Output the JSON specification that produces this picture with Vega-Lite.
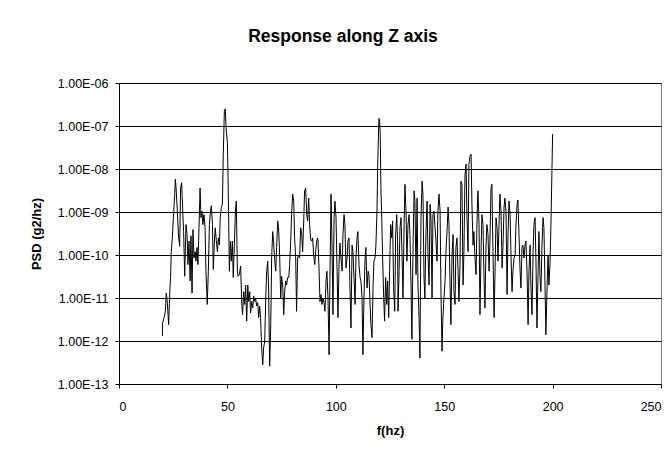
{
"$schema": "https://vega.github.io/schema/vega-lite/v6.json",
"width": 542, "height": 301,
"autosize": {"type": "none"},
"padding": {"left": 119, "top": 83, "right": 11, "bottom": 69},
"background": "white",
"title": {"text": "Response along Z axis", "font": "Liberation Sans", "fontSize": 17.5, "fontWeight": "bold", "color": "black", "anchor": "middle", "frame": "group", "dx": -47, "offset": 18, "baseline": "alphabetic"},
"data": {"values": [
{"f":20.0,"psd":1.3e-12},{"f":20.1,"psd":2.6e-12},{"f":20.8,"psd":3.5e-12},{"f":21.4,"psd":4.9e-12},{"f":21.8,"psd":1.3e-11},{"f":22.3,"psd":7.8e-12},{"f":22.9,"psd":2.4e-12},{"f":23.5,"psd":1.7e-11},{"f":23.8,"psd":3.0e-11},{"f":24.1,"psd":1.2e-10},{"f":24.6,"psd":2.5e-10},{"f":25.1,"psd":7.4e-10},{"f":25.7,"psd":2.6e-9},{"f":26.0,"psd":5.8e-9},{"f":26.4,"psd":3.1e-9},{"f":26.9,"psd":1.05e-9},{"f":27.5,"psd":2.5e-10},{"f":28.0,"psd":1.6e-10},{"f":28.4,"psd":3.6e-9},{"f":28.9,"psd":4.8e-9},{"f":29.4,"psd":1.05e-9},{"f":29.8,"psd":3.5e-10},{"f":30.3,"psd":3.2e-11},{"f":30.9,"psd":5.1e-10},{"f":31.4,"psd":3.0e-10},{"f":31.8,"psd":6.0e-11},{"f":32.3,"psd":2.1e-10},{"f":32.8,"psd":2.5e-11},{"f":33.2,"psd":2.8e-10},{"f":33.7,"psd":1.3e-11},{"f":34.1,"psd":3.9e-10},{"f":34.6,"psd":8.5e-11},{"f":35.1,"psd":1.2e-10},{"f":35.5,"psd":7.2e-11},{"f":36.0,"psd":1.5e-10},{"f":36.4,"psd":6.0e-11},{"f":36.9,"psd":4.3e-10},{"f":37.4,"psd":3.6e-9},{"f":37.8,"psd":7.4e-10},{"f":38.3,"psd":1.05e-9},{"f":38.7,"psd":5.1e-10},{"f":39.2,"psd":8.7e-10},{"f":39.7,"psd":4.3e-10},{"f":40.1,"psd":4.2e-11},{"f":40.7,"psd":7.1e-12},{"f":41.2,"psd":4.2e-11},{"f":41.7,"psd":5.1e-10},{"f":42.1,"psd":9.5e-10},{"f":42.6,"psd":1.4e-9},{"f":43.1,"psd":5.1e-10},{"f":43.5,"psd":4.6e-11},{"f":44.0,"psd":2.1e-10},{"f":44.4,"psd":4.3e-10},{"f":44.9,"psd":2.1e-10},{"f":45.4,"psd":1.2e-10},{"f":45.8,"psd":2.5e-10},{"f":46.3,"psd":1.7e-10},{"f":46.7,"psd":7.4e-10},{"f":47.2,"psd":1.3e-9},{"f":47.7,"psd":1.5e-9},{"f":48.1,"psd":2.2e-8},{"f":48.6,"psd":2.2e-7},{"f":49.0,"psd":2.5e-7},{"f":49.5,"psd":7.6e-8},{"f":50.0,"psd":4.1e-8},{"f":50.3,"psd":6.3e-9},{"f":50.6,"psd":6.2e-10},{"f":50.9,"psd":4.2e-11},{"f":51.4,"psd":2.1e-10},{"f":51.8,"psd":7.2e-11},{"f":52.3,"psd":2.1e-10},{"f":52.7,"psd":3.0e-11},{"f":53.2,"psd":1.7e-10},{"f":53.7,"psd":1.05e-9},{"f":54.1,"psd":1.8e-9},{"f":54.6,"psd":4.2e-11},
{"f":54.9,"psd":3.2e-11},{"f":55.5,"psd":3.5e-11},{"f":56.1,"psd":5.5e-11},{"f":56.6,"psd":8.3e-12},{"f":57.0,"psd":4.1e-12},{"f":57.5,"psd":1.4e-11},{"f":58.0,"psd":7.1e-12},{"f":58.4,"psd":2.0e-11},{"f":58.9,"psd":2.9e-12},{"f":59.4,"psd":2.0e-11},{"f":59.8,"psd":8.3e-12},{"f":60.3,"psd":1.4e-11},{"f":60.7,"psd":4.5e-12},{"f":61.2,"psd":8.3e-12},{"f":61.7,"psd":5.9e-12},{"f":62.1,"psd":1.1e-11},{"f":62.6,"psd":8.3e-12},{"f":63.0,"psd":1.0e-11},{"f":63.5,"psd":6.5e-12},{"f":64.0,"psd":7.8e-12},{"f":64.4,"psd":3.5e-12},{"f":64.9,"psd":6.5e-12},{"f":65.3,"psd":3.5e-12},{"f":65.8,"psd":6.9e-13},{"f":66.3,"psd":2.8e-13},{"f":66.7,"psd":6.9e-13},{"f":67.2,"psd":9.8e-13},{"f":67.7,"psd":1.0e-11},{"f":68.1,"psd":4.2e-11},{"f":68.6,"psd":7.2e-11},{"f":69.0,"psd":1.7e-11},{"f":69.5,"psd":2.6e-13},{"f":70.0,"psd":2.4e-12},{"f":70.4,"psd":8.5e-11},{"f":70.9,"psd":3.5e-10},{"f":71.3,"psd":2.1e-10},{"f":71.8,"psd":7.8e-11},{"f":72.3,"psd":4.2e-11},{"f":72.7,"psd":1.5e-10},{"f":73.2,"psd":6.2e-10},{"f":73.6,"psd":4.3e-10},{"f":74.1,"psd":1.0e-10},{"f":74.6,"psd":1.0e-11},{"f":75.0,"psd":3.2e-11},{"f":75.5,"psd":2.0e-11},{"f":76.0,"psd":4.1e-12},{"f":76.4,"psd":1.4e-11},{"f":76.9,"psd":2.5e-11},{"f":77.3,"psd":2.0e-11},{"f":77.8,"psd":3.0e-11},{"f":78.3,"psd":3.0e-11},{"f":78.7,"psd":6.0e-11},{"f":79.2,"psd":2.1e-10},{"f":79.6,"psd":8.7e-10},{"f":80.1,"psd":2.6e-9},{"f":80.6,"psd":1.8e-9},{"f":81.0,"psd":2.5e-10},{"f":81.5,"psd":8.5e-11},{"f":81.9,"psd":4.9e-12},{"f":82.4,"psd":8.5e-11},{"f":82.9,"psd":1.0e-10},{"f":83.3,"psd":8.5e-11},{"f":83.8,"psd":4.3e-10},{"f":84.3,"psd":3.0e-10},{"f":84.7,"psd":1.2e-10},{"f":85.2,"psd":6.2e-10},{"f":85.6,"psd":3.1e-9},{"f":86.1,"psd":3.6e-9},{"f":86.6,"psd":8.7e-10},{"f":87.0,"psd":6.2e-10},{"f":87.5,"psd":2.1e-9},{"f":87.9,"psd":5.1e-10},{"f":88.4,"psd":2.3e-10},{"f":88.9,"psd":2.1e-10},{"f":89.3,"psd":2.5e-10},{"f":89.8,"psd":1.0e-10},{"f":90.3,"psd":6.0e-11},{"f":90.7,"psd":1.2e-10},{"f":91.2,"psd":2.1e-10},{"f":91.6,"psd":2.5e-10},
{"f":91.8,"psd":2.1e-10},{"f":92.3,"psd":4.2e-11},{"f":92.7,"psd":8.3e-12},{"f":93.2,"psd":1.2e-11},{"f":93.6,"psd":7.1e-12},{"f":94.1,"psd":1.0e-11},{"f":94.6,"psd":7.8e-12},{"f":95.0,"psd":4.9e-12},{"f":95.5,"psd":2.5e-11},{"f":95.9,"psd":4.2e-11},{"f":96.4,"psd":1.0e-11},{"f":96.9,"psd":4.8e-13},{"f":97.3,"psd":3.0e-11},{"f":97.8,"psd":2.6e-9},{"f":98.2,"psd":2.5e-10},{"f":98.7,"psd":4.1e-12},{"f":99.2,"psd":7.4e-10},{"f":99.6,"psd":1.8e-9},{"f":100.1,"psd":7.4e-10},{"f":100.6,"psd":4.2e-11},{"f":101.0,"psd":3.5e-12},{"f":101.5,"psd":6.0e-11},{"f":101.9,"psd":1.9e-10},{"f":102.4,"psd":8.5e-11},{"f":102.9,"psd":4.2e-11},{"f":103.3,"psd":3.0e-10},{"f":103.8,"psd":8.7e-10},{"f":104.2,"psd":5.1e-10},{"f":104.7,"psd":5.0e-11},{"f":105.2,"psd":8.5e-11},{"f":105.6,"psd":2.1e-10},{"f":106.1,"psd":2.5e-10},{"f":106.5,"psd":2.0e-11},{"f":107.0,"psd":2.0e-12},{"f":107.5,"psd":1.7e-10},{"f":107.9,"psd":1.2e-10},{"f":108.4,"psd":3.0e-11},{"f":108.9,"psd":7.1e-12},{"f":109.3,"psd":8.5e-11},{"f":109.8,"psd":2.5e-10},{"f":110.2,"psd":3.5e-10},{"f":110.7,"psd":6.0e-11},{"f":111.2,"psd":3.0e-11},{"f":111.6,"psd":2.5e-11},{"f":112.1,"psd":1.0e-11},{"f":112.5,"psd":4.8e-13},{"f":113.0,"psd":1.0e-11},{"f":113.5,"psd":8.5e-11},{"f":113.9,"psd":1.5e-10},{"f":114.4,"psd":1.7e-11},{"f":114.9,"psd":4.2e-11},{"f":115.3,"psd":3.5e-11},{"f":115.8,"psd":7.1e-12},{"f":116.2,"psd":2.4e-12},{"f":116.7,"psd":1.2e-12},{"f":117.2,"psd":2.0e-11},{"f":117.6,"psd":7.2e-11},{"f":118.1,"psd":8.5e-11},{"f":118.5,"psd":1.7e-10},{"f":119.0,"psd":1.05e-9},{"f":119.3,"psd":1.1e-8},{"f":119.6,"psd":4.5e-8},{"f":119.9,"psd":1.5e-7},{"f":120.2,"psd":1.3e-7},{"f":120.5,"psd":6.5e-8},{"f":120.8,"psd":3.6e-9},{"f":121.2,"psd":7.4e-10},{"f":121.6,"psd":8.5e-11},{"f":122.1,"psd":1.0e-11},{"f":122.5,"psd":2.9e-12},{"f":123.0,"psd":3.0e-11},{"f":123.5,"psd":7.1e-12},{"f":123.9,"psd":2.5e-11},{"f":124.4,"psd":3.5e-12},{"f":124.8,"psd":4.2e-11},{"f":125.3,"psd":5.1e-10},{"f":125.8,"psd":2.5e-10},{"f":126.2,"psd":6.2e-10},{"f":126.7,"psd":1.4e-11},{"f":127.2,"psd":4.9e-12},{"f":127.6,"psd":3.0e-10},{"f":128.1,"psd":8.7e-10},{"f":128.5,"psd":2.1e-10},
{"f":128.7,"psd":4.9e-12},{"f":129.2,"psd":4.2e-11},{"f":129.6,"psd":4.3e-10},{"f":130.1,"psd":7.4e-10},{"f":130.5,"psd":1.2e-10},{"f":131.0,"psd":1.0e-11},{"f":131.5,"psd":5.1e-10},{"f":131.9,"psd":4.4e-9},{"f":132.4,"psd":1.05e-9},{"f":132.8,"psd":7.2e-11},{"f":133.3,"psd":5.1e-10},{"f":133.8,"psd":8.7e-10},{"f":134.2,"psd":3.0e-10},{"f":134.7,"psd":2.0e-11},{"f":135.1,"psd":1.1e-12},{"f":135.6,"psd":1.2e-10},{"f":136.1,"psd":3.1e-9},{"f":136.5,"psd":1.8e-9},{"f":137.0,"psd":3.5e-11},{"f":137.5,"psd":2.1e-9},{"f":137.9,"psd":2.0e-11},{"f":138.4,"psd":3.5e-12},{"f":138.8,"psd":4.0e-13},{"f":139.3,"psd":7.4e-10},{"f":139.8,"psd":5.2e-9},{"f":140.2,"psd":2.6e-9},{"f":140.7,"psd":3.0e-11},{"f":141.1,"psd":1.0e-11},{"f":141.6,"psd":3.5e-10},{"f":142.1,"psd":1.8e-9},{"f":142.5,"psd":1.2e-10},{"f":143.0,"psd":2.0e-11},{"f":143.5,"psd":1.5e-9},{"f":143.9,"psd":7.4e-10},{"f":144.4,"psd":1.0e-11},{"f":144.8,"psd":8.7e-10},{"f":145.3,"psd":1.05e-9},{"f":145.8,"psd":4.3e-10},{"f":146.2,"psd":2.1e-10},{"f":146.7,"psd":7.2e-11},{"f":147.1,"psd":1.05e-9},{"f":147.6,"psd":2.6e-9},{"f":148.1,"psd":1.05e-9},{"f":148.5,"psd":1.4e-11},{"f":149.0,"psd":5.8e-13},{"f":149.4,"psd":3.5e-12},{"f":149.9,"psd":1.0e-11},{"f":150.4,"psd":2.5e-11},{"f":150.8,"psd":1.2e-10},{"f":151.3,"psd":3.5e-10},{"f":151.8,"psd":1.3e-9},{"f":152.2,"psd":5.1e-10},{"f":152.7,"psd":2.0e-11},{"f":153.1,"psd":2.4e-12},{"f":153.6,"psd":1.0e-10},{"f":154.1,"psd":3.0e-10},{"f":154.5,"psd":1.4e-11},{"f":155.0,"psd":7.1e-12},{"f":155.4,"psd":1.5e-10},{"f":155.9,"psd":2.5e-10},{"f":156.4,"psd":4.2e-11},{"f":156.8,"psd":8.3e-12},{"f":157.3,"psd":6.0e-11},{"f":157.7,"psd":5.2e-9},{"f":158.2,"psd":4.4e-9},{"f":158.7,"psd":2.0e-11},{"f":159.1,"psd":1.2e-10},{"f":159.6,"psd":7.4e-9},{"f":160.1,"psd":1.3e-8},{"f":160.5,"psd":7.4e-10},{"f":161.0,"psd":1.2e-10},{"f":161.4,"psd":1.3e-8},{"f":161.9,"psd":2.0e-8},{"f":162.4,"psd":2.2e-8},{"f":162.8,"psd":1.5e-9},{"f":163.3,"psd":1.7e-10},{"f":163.7,"psd":3.5e-10},{"f":164.2,"psd":8.5e-11},{"f":164.7,"psd":3.5e-11},{"f":165.1,"psd":5.1e-10},{"f":165.4,"psd":2.1e-9},
{"f":165.6,"psd":3.1e-9},{"f":166.1,"psd":4.3e-10},{"f":166.5,"psd":4.1e-12},{"f":167.0,"psd":1.2e-10},{"f":167.4,"psd":8.7e-10},{"f":167.9,"psd":5.1e-10},{"f":168.4,"psd":2.5e-11},{"f":168.8,"psd":5.9e-12},{"f":169.3,"psd":1.7e-10},{"f":169.7,"psd":5.1e-10},{"f":170.2,"psd":3.0e-10},{"f":170.7,"psd":4.2e-11},{"f":171.1,"psd":2.1e-10},{"f":171.6,"psd":3.6e-9},{"f":172.0,"psd":4.4e-9},{"f":172.5,"psd":1.2e-10},{"f":173.0,"psd":3.5e-12},{"f":173.4,"psd":3.0e-11},{"f":173.9,"psd":7.4e-10},{"f":174.4,"psd":4.3e-10},{"f":174.8,"psd":7.2e-11},{"f":175.3,"psd":5.1e-10},{"f":175.7,"psd":2.6e-9},{"f":176.2,"psd":1.05e-9},{"f":176.7,"psd":5.0e-11},{"f":177.1,"psd":1.5e-10},{"f":177.6,"psd":1.3e-9},{"f":178.0,"psd":2.1e-9},{"f":178.5,"psd":1.05e-9},{"f":179.0,"psd":1.2e-11},{"f":179.4,"psd":2.5e-10},{"f":179.9,"psd":1.8e-9},{"f":180.4,"psd":8.7e-10},{"f":180.8,"psd":1.0e-10},{"f":181.3,"psd":1.4e-11},{"f":181.7,"psd":4.2e-11},{"f":182.2,"psd":8.5e-11},{"f":182.7,"psd":1.0e-10},{"f":183.1,"psd":5.1e-10},{"f":183.6,"psd":1.5e-9},{"f":184.0,"psd":1.9e-9},{"f":184.5,"psd":3.0e-10},{"f":185.0,"psd":4.2e-11},{"f":185.4,"psd":1.7e-11},{"f":185.9,"psd":1.5e-10},{"f":186.3,"psd":1.7e-10},{"f":186.8,"psd":8.5e-11},{"f":187.3,"psd":1.7e-10},{"f":187.7,"psd":2.1e-10},{"f":188.2,"psd":4.2e-11},{"f":188.7,"psd":2.4e-12},{"f":189.1,"psd":4.2e-11},{"f":189.6,"psd":1.7e-10},{"f":190.0,"psd":2.0e-11},{"f":190.5,"psd":4.1e-12},{"f":191.0,"psd":1.2e-10},{"f":191.4,"psd":5.1e-10},{"f":191.9,"psd":7.4e-10},{"f":192.3,"psd":8.5e-11},{"f":192.8,"psd":2.0e-12},{"f":193.3,"psd":4.2e-11},{"f":193.7,"psd":3.5e-10},{"f":194.2,"psd":3.0e-11},{"f":194.6,"psd":1.4e-11},{"f":195.1,"psd":1.7e-10},{"f":195.6,"psd":7.4e-10},{"f":196.0,"psd":4.3e-10},{"f":196.5,"psd":2.0e-11},{"f":196.9,"psd":1.4e-12},{"f":197.4,"psd":1.4e-11},{"f":197.9,"psd":1.0e-10},{"f":198.3,"psd":2.0e-11},{"f":198.8,"psd":6.0e-11},{"f":199.3,"psd":7.4e-10},{"f":200.0,"psd":6.5e-8}
]},
"mark": {"type": "line", "color": "black", "strokeWidth": 1, "clip": true},
"encoding": {
"x": {"field": "f", "type": "quantitative", "scale": {"domain": [0, 250], "nice": false, "zero": false},
  "axis": {"title": "f(hz)", "values": [0, 50, 100, 150, 200, 250], "grid": false, "labelPadding": 12, "titlePadding": 12}},
"y": {"field": "psd", "type": "quantitative", "scale": {"type": "log", "domain": [1e-13, 1e-6], "nice": false},
  "axis": {"title": "PSD (g2/hz)", "values": [1e-13, 1e-12, 1e-11, 1e-10, 1e-9, 1e-8, 1e-7, 1e-6], "grid": true, "gridColor": "black", "gridWidth": 1, "gridOpacity": 1, "labelPadding": 7, "titlePadding": 14,
   "labelExpr": "'1.00E-' + (abs(round(log(datum.value)/LN10)) < 10 ? '0' : '') + abs(round(log(datum.value)/LN10))"}}
},
"config": {
"view": {"stroke": "#808080", "strokeWidth": 1},
"axis": {"domainColor": "black", "domainWidth": 1, "tickColor": "black", "tickSize": 4, "tickWidth": 1,
  "labelFont": "Liberation Sans", "labelFontSize": 12.5, "labelColor": "black",
  "titleFont": "Liberation Sans", "titleFontSize": 13, "titleFontWeight": "bold", "titleColor": "black"}
}
}
